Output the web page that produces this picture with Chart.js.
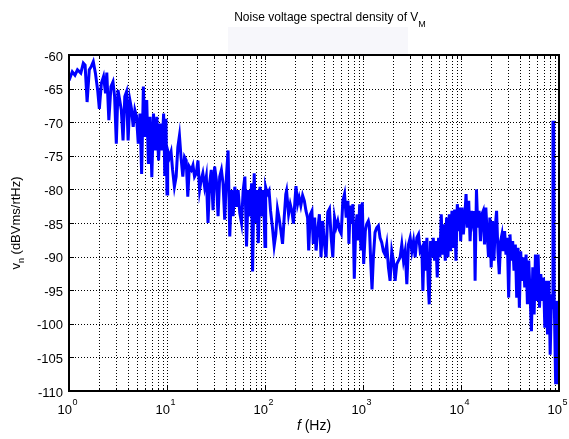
<!DOCTYPE html>
<html>
<head>
<meta charset="utf-8">
<script src="https://cdn.jsdelivr.net/npm/chart.js@4.4.1/dist/chart.umd.min.js"></script>
<style>
  html, body { margin: 0; padding: 0; background: #fff; }
  #wrap { width: 569px; height: 439px; }
</style>
</head>
<body>
<div id="wrap"><canvas id="psd" width="569" height="439"></canvas></div>
<script>
// ====== DATA ======
const chartTitle = "Noise voltage spectral density of V";
const chartTitleSub = "M";
const xTitleItalic = "f";
const xTitleRest = " (Hz)";
const yTitleMain = "v";
const yTitleSub = "n";
const yTitleRest = " (dBVms/rtHz)";

const xDecades = [1, 10, 100, 1000, 10000, 100000];
const xDecadeExp = ["0", "1", "2", "3", "4", "5"];
const xMinorSteps = [1, 2, 3, 4, 5, 6, 7, 8, 9];
const yTicks = [-60, -65, -70, -75, -80, -85, -90, -95, -100, -105, -110];

// frequency (Hz)
const freqHz = [
  1.0, 1.08, 1.15, 1.22, 1.32, 1.40, 1.46, 1.53, 1.61, 1.69, 1.77, 1.86, 1.96, 2.04, 2.14, 2.25, 2.36, 2.43, 2.55, 2.68,
  2.81, 2.92, 3.04, 3.16, 3.29, 3.42, 3.56, 3.71, 3.86, 4.01, 4.18, 4.34, 4.52, 4.70, 4.89, 5.09, 5.30, 5.51, 5.74, 5.97,
  6.21, 6.46, 6.72, 7.0, 7.28, 7.57, 7.88, 8.2, 8.53, 8.88, 9.24, 9.5, 9.75, 10,
  10.16, 10.6, 11.0, 11.4, 11.9, 12.4, 12.9, 13.4, 13.9, 14.5, 15.1, 15.7, 16.3, 16.9, 17.7, 18.4, 19.1, 19.9, 20.7, 21.5,
  22.3, 23.2, 24.2, 25.2, 26.2, 27.2, 28.3, 29.5, 30.6, 31.9, 33.2, 34.5, 35.9, 37.3, 38.8, 40.4, 42.0, 43.7, 45.5, 47.3,
  49.2, 51.2, 53.2, 55.3, 57.6, 59.9, 62.3, 64.8, 67.4, 70.2, 73.0, 74.7, 77.6, 80.1, 82.7, 85.4, 88.9, 92.4, 96.2, 100,
  101.6, 105.7, 110, 114, 119, 124, 129, 134, 139, 145, 151, 157, 163, 166, 174, 181, 188, 195, 202, 207,
  215, 223, 232, 242, 252, 262, 272, 279, 290, 301, 311, 321, 332, 345, 359, 373, 388, 404, 420, 437,
  455, 473, 492, 512, 532, 553, 576, 599, 623, 648, 674, 702, 718, 741, 765, 789, 815, 841, 869, 896,
  925, 953, 984, 1016,
  1056, 1090, 1134, 1161, 1198, 1236, 1276, 1327, 1380, 1436, 1493, 1553, 1615, 1680, 1747, 1817, 1890, 1966, 2045, 2127,
  2212, 2300, 2392, 2488, 2588, 2692, 2800, 2912, 3029, 3150, 3276, 3407, 3544, 3686, 3834, 3987, 4083, 4213, 4348, 4487,
  4630, 4741, 4892, 5048, 5210, 5375, 5546, 5724, 5906, 6094, 6288, 6490, 6697, 6910, 7130, 7358, 7593, 7834, 8084, 8342,
  8607, 8882, 9173, 9461, 9772,
  9922, 10240, 10570, 10910, 11260, 11620, 11990, 12380, 12770, 13180, 13610, 13930, 14380, 14840, 15310, 15800, 16310, 16830, 17370, 17930,
  18500, 19090, 19700, 20330, 20990, 21660, 22350, 23070, 23810, 24570, 25360, 26170, 27010, 27870, 28770, 29690, 30640, 31620, 32630, 33670,
  34750, 35860, 37010, 38190, 39410, 40680, 41980, 43320, 44710, 46140, 47610, 49140, 50710, 52330, 54000, 55730, 57510, 59350, 61250, 63210,
  65230, 67310, 69470, 71690, 73980, 76340, 78780, 81300, 83900, 86000, 86700, 88300, 89300, 92440, 94620, 96860, 99220, 100000
];

// noise density (dBVrms/rtHz) at each frequency
const noiseDb = [
  -63.8, -62.5, -63, -62.2, -62.7, -61.2, -61.5, -67, -62.2, -61.7, -61, -62.7, -65.2, -68, -64.2, -63.2, -65.7, -62.6, -69.7, -64.7,
  -64, -66.2, -73.2, -65.2, -66.7, -68.2, -72.7, -66.2, -65.5, -72.7, -66.7, -68, -70.7, -68.2, -69.2, -73.2, -68.7, -77.7, -64.7, -72.2,
  -66.7, -76.2, -69.2, -78.2, -68.7, -74.2, -69.2, -75.7, -70.2, -74.2, -68.7, -78, -69.5, -80.7,
  -74.2, -75.2, -74.4, -77.1, -79.6, -78.1, -73.7, -72, -75.2, -78.1, -75.2, -75.7, -81.1, -76.6, -77.1, -76.4, -78.1, -77.6, -75.7, -80.1,
  -78.6, -77.6, -79.6, -78.1, -85, -79.1, -77.1, -83.1, -76.6, -78.6, -84, -78.1, -77.1, -79.1, -84.5, -78.1, -74.2, -87, -80.1, -84,
  -79.6, -82.6, -80.1, -83.5, -85, -80.1, -78.1, -88.5, -80.1, -84, -79.1, -92.2, -77.6, -85, -80.1, -88, -79.6, -84, -80.1, -88.5,
  -79.7, -80.7, -80.2, -83.2, -85.6, -88.4, -86.6, -82.9, -84.2, -86.1, -88.1, -84.2, -80.7, -80.2, -83.7, -82.2, -83.2, -85.1, -81.7, -79.5,
  -82.2, -81.2, -82.4, -80.9, -81.7, -83.2, -84.2, -89.1, -83.7, -83.2, -88.1, -84.2, -89.1, -86.1, -83.7, -90.1, -84.7, -88.1, -90.1, -83.4,
  -82.9, -87.1, -90.1, -84.2, -85.6, -84.7, -86.1, -86.6, -81.7, -80.7, -84.2, -81.7, -88.1, -82.4, -85.1, -82.2, -93.3, -86.1, -83.7, -87.6,
  -82.2, -89.1, -81.9, -91.1,
  -86.2, -85.2, -84.7, -85.4, -90.6, -94.9, -90.1, -86.4, -85.7, -85.4, -87.2, -87.9, -89.2, -89.7, -88.2, -91.6, -93.6, -89.2, -90.6, -93.6,
  -91.1, -90.6, -90.1, -88.2, -90.6, -89.2, -94.1, -88.2, -87.2, -89.2, -87.7, -90.1, -87.2, -86.7, -89.2, -88.7, -95.1, -87.7, -92.1, -87.2,
  -94.1, -97.1, -87.7, -90.1, -87.2, -90.6, -87.7, -93.1, -87.2, -90.1, -83.7, -89.7, -85.2, -90.6, -84.2, -90.1, -83.7, -89.2, -83.2, -88.7,
  -83, -90.6, -82.2, -86.2, -82.7,
  -87.7, -82.7, -86.7, -84.2, -80.7, -85.7, -81.7, -87.7, -83.2, -84.7, -83.2, -93.6, -80, -85.7, -83.2, -87.7, -83.7, -83.2, -88.2, -82.7,
  -86.7, -90.1, -84.2, -91.6, -84.7, -90.6, -85.7, -83.2, -89.2, -92.6, -87.7, -86.7, -89.2, -86.2, -89.7, -87.2, -96.1, -86.7, -90.6, -87.7,
  -92.1, -88.2, -96.1, -88.7, -97.6, -89.2, -93.6, -90.1, -94.6, -89.7, -97.1, -90.6, -95.6, -101.1, -91.6, -98.6, -89.7, -96.6, -89.7, -97.6,
  -92.6, -96.6, -93.1, -100.6, -93.6, -101.6, -93.6, -104.6, -95.6, -97.6, -70, -70, -96, -109, -96.6, -98.6, -109, -97.6
];

const FONT = '"Liberation Sans", Arial, Helvetica, sans-serif';

// ====== AXES, GRID, LABELS ======
const matlabAxes = {
  id: "matlabAxes",
  beforeDatasetsDraw(chart) {
    const { ctx, chartArea: a, scales: { x, y } } = chart;
    ctx.save();
    // faint box under the title
    ctx.fillStyle = "#f7f7fb";
    ctx.fillRect(228, 27, 180, 27);
    // dotted grid
    ctx.strokeStyle = "#000";
    ctx.lineWidth = 1;
    ctx.setLineDash([1, 2]);
    x.ticks.forEach(t => {
      const px = Math.round(x.getPixelForValue(t.value)) + 0.5;
      if (px <= a.left + 1 || px >= a.right - 1) return;
      ctx.beginPath(); ctx.moveTo(px, a.top); ctx.lineTo(px, a.bottom); ctx.stroke();
    });
    y.ticks.forEach(t => {
      const py = Math.round(y.getPixelForValue(t.value)) + 0.5;
      if (py <= a.top + 1 || py >= a.bottom - 1) return;
      ctx.beginPath(); ctx.moveTo(a.left, py); ctx.lineTo(a.right, py); ctx.stroke();
    });
    ctx.restore();
  },
  afterDatasetsDraw(chart) {
    const { ctx, chartArea: a, scales: { x, y } } = chart;
    ctx.save();
    ctx.strokeStyle = "#000";
    ctx.setLineDash([]);

    // tick marks, inward, bottom + top
    ctx.lineWidth = 1;
    x.ticks.forEach(t => {
      const px = Math.round(x.getPixelForValue(t.value)) + 0.5;
      const len = xDecades.includes(t.value) ? 5 : 3;
      ctx.beginPath();
      ctx.moveTo(px, a.bottom); ctx.lineTo(px, a.bottom - len);
      ctx.moveTo(px, a.top); ctx.lineTo(px, a.top + len);
      ctx.stroke();
    });
    y.ticks.forEach(t => {
      const py = Math.round(y.getPixelForValue(t.value)) + 0.5;
      ctx.beginPath();
      ctx.moveTo(a.left, py); ctx.lineTo(a.left + 5, py);
      ctx.moveTo(a.right, py); ctx.lineTo(a.right - 5, py);
      ctx.stroke();
    });

    // box
    ctx.lineWidth = 2;
    ctx.strokeRect(a.left, a.top, a.right - a.left, a.bottom - a.top);

    ctx.fillStyle = "#000";
    // y tick labels
    ctx.font = "13px " + FONT;
    ctx.textAlign = "right";
    ctx.textBaseline = "middle";
    yTicks.forEach(v => {
      ctx.fillText(String(v), a.left - 6, y.getPixelForValue(v) + 2);
    });

    // x decade labels 10^n
    ctx.textBaseline = "alphabetic";
    xDecades.forEach((d, i) => {
      const px = x.getPixelForValue(d);
      ctx.font = "13px " + FONT;
      ctx.textAlign = "right";
      ctx.fillText("10", px + 3, 414);
      ctx.font = "9px " + FONT;
      ctx.textAlign = "left";
      ctx.fillText(xDecadeExp[i], px + 3.5, 405);
    });

    // x title
    const cx = (a.left + a.right) / 2;
    ctx.font = "italic 14px " + FONT;
    const wf = ctx.measureText(xTitleItalic).width;
    ctx.font = "14px " + FONT;
    const wr = ctx.measureText(xTitleRest).width;
    let sx = cx - (wf + wr) / 2;
    ctx.textAlign = "left";
    ctx.font = "italic 14px " + FONT;
    ctx.fillText(xTitleItalic, sx, 430);
    ctx.font = "14px " + FONT;
    ctx.fillText(xTitleRest, sx + wf, 430);

    // title
    ctx.font = "12px " + FONT;
    const wt = ctx.measureText(chartTitle).width;
    ctx.font = "9px " + FONT;
    const ws = ctx.measureText(chartTitleSub).width;
    sx = cx + 16 - (wt + ws) / 2;
    ctx.font = "12px " + FONT;
    ctx.fillText(chartTitle, sx, 21);
    ctx.font = "9px " + FONT;
    ctx.fillText(chartTitleSub, sx + wt, 27);

    // y title (rotated)
    ctx.translate(20, (a.top + a.bottom) / 2);
    ctx.rotate(-Math.PI / 2);
    ctx.font = "13px " + FONT;
    const wv = ctx.measureText(yTitleMain).width;
    const wy = ctx.measureText(yTitleRest).width;
    ctx.font = "9px " + FONT;
    const wn = ctx.measureText(yTitleSub).width;
    sx = -(wv + wn + wy) / 2;
    ctx.font = "13px " + FONT;
    ctx.fillText(yTitleMain, sx, 0);
    ctx.font = "9px " + FONT;
    ctx.fillText(yTitleSub, sx + wv, 4);
    ctx.font = "13px " + FONT;
    ctx.fillText(yTitleRest, sx + wv + wn, 0);

    ctx.restore();
  }
};

// ====== CHART ======
const points = freqHz.map((f, i) => ({ x: f, y: noiseDb[i] }));

new Chart(document.getElementById("psd"), {
  type: "line",
  data: {
    datasets: [{
      data: points,
      borderColor: "#0000ff",
      borderWidth: 3,
      pointRadius: 0,
      tension: 0,
      fill: false
    }]
  },
  options: {
    responsive: false,
    animation: false,
    layout: { padding: { left: 69, top: 55, right: 10, bottom: 48 } },
    plugins: { legend: { display: false }, tooltip: { enabled: false } },
    scales: {
      x: {
        type: "logarithmic",
        min: 1,
        max: 100000,
        grid: { display: false, drawTicks: false },
        border: { display: false },
        ticks: { display: false },
        afterBuildTicks: (scale) => {
          const ticks = [];
          xDecades.slice(0, -1).forEach(d => xMinorSteps.forEach(m => ticks.push({ value: m * d })));
          ticks.push({ value: xDecades[xDecades.length - 1] });
          scale.ticks = ticks;
        }
      },
      y: {
        type: "linear",
        min: -110,
        max: -60,
        grid: { display: false, drawTicks: false },
        border: { display: false },
        ticks: { display: false },
        afterBuildTicks: (scale) => {
          scale.ticks = yTicks.map(v => ({ value: v }));
        }
      }
    }
  },
  plugins: [matlabAxes]
});
</script>
</body>
</html>
